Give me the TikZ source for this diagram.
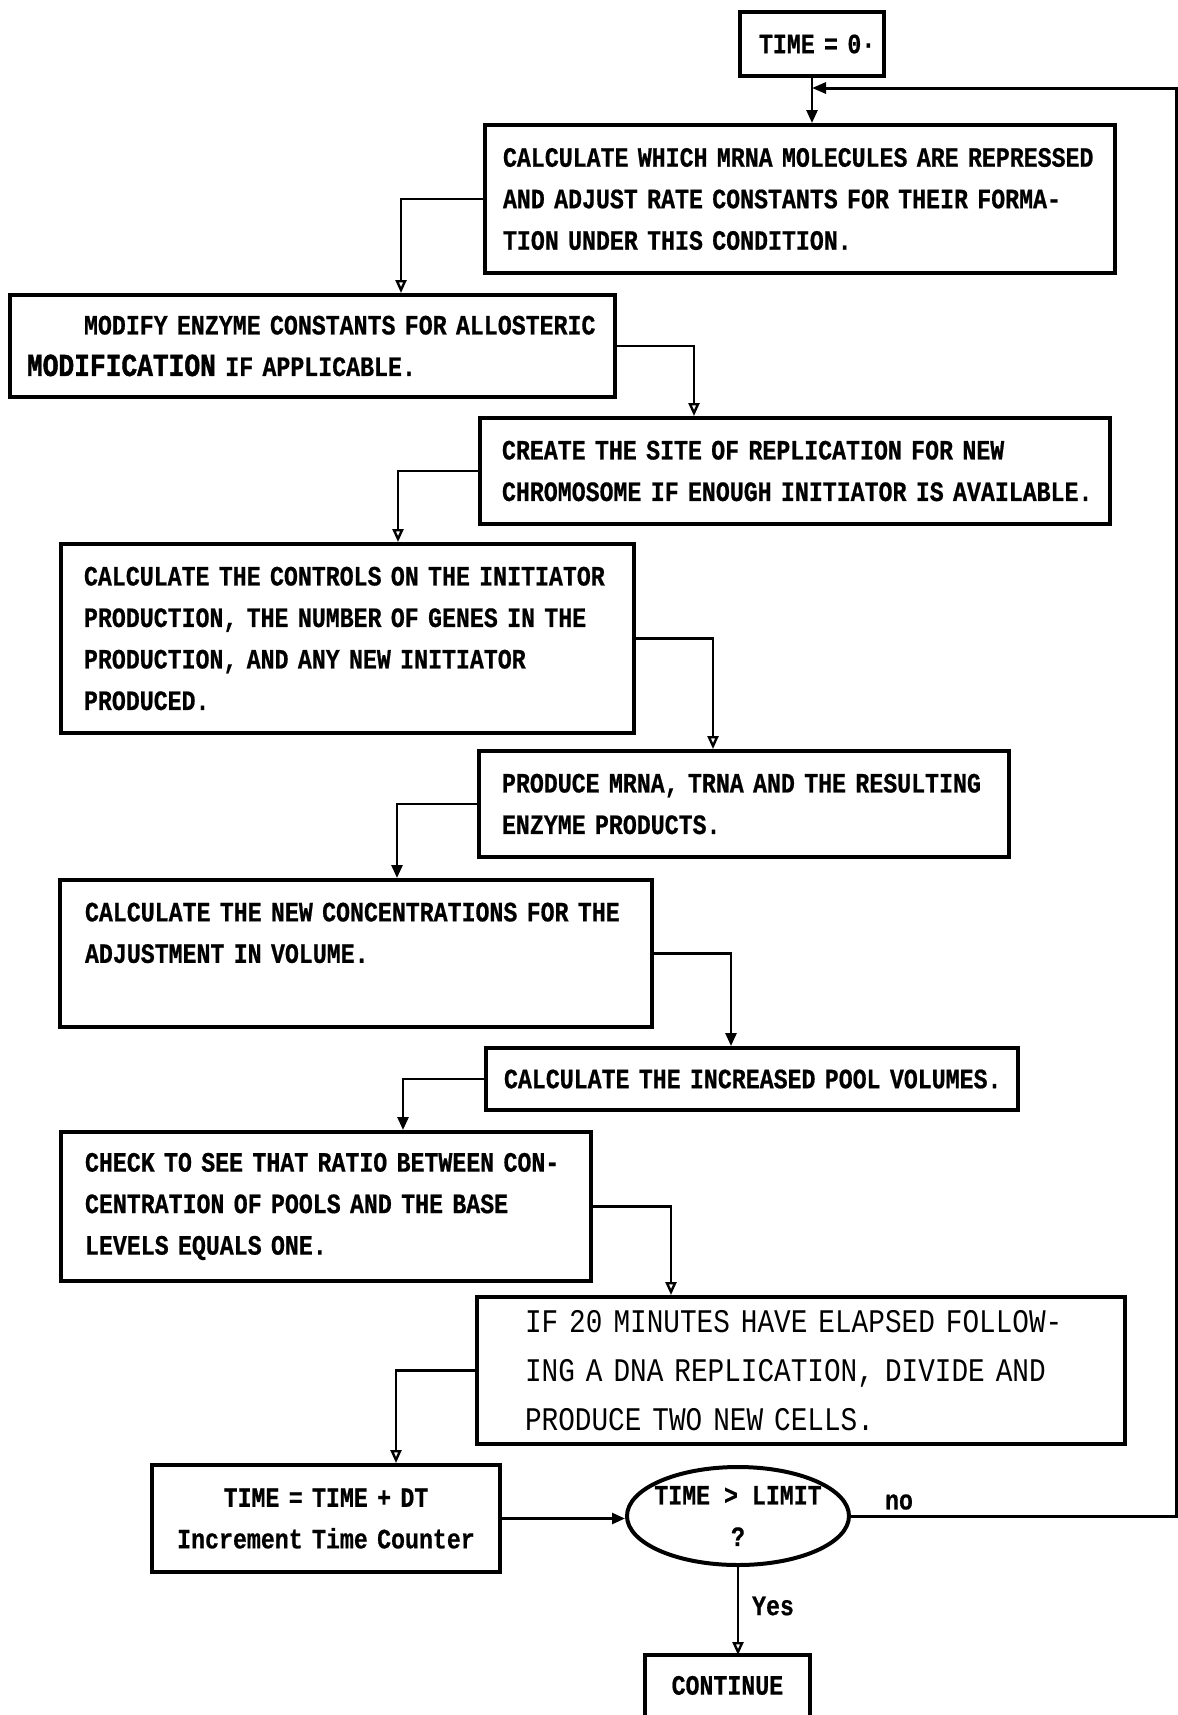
\documentclass[tikz,border=0pt]{standalone}
\usepackage{fontspec}
\usetikzlibrary{arrows.meta,shapes.geometric}

% typewriter faces for the flow chart
\newfontfamily\twfam[FakeStretch=0.83,FakeBold=0.6]{Liberation Mono}
\newfontfamily\twheavy[FakeStretch=0.82,FakeBold=1.4,UprightFont={* Bold}]{Liberation Mono}
\newfontfamily\twplain[FakeStretch=0.84]{Liberation Mono}
\newcommand\boxfont{\twfam\bfseries\fontsize{14pt}{20.75pt}\selectfont}
\newcommand\heavyfont{\twheavy\fontsize{16pt}{20.75pt}\selectfont}
\newcommand\plainfont{\twplain\fontsize{16.5pt}{24.5pt}\selectfont}
\newcommand\oneline[1]{\mbox{#1}}

\tikzset{
  box/.style={draw, line width=2pt, rectangle, anchor=north west,
    inner ysep=0pt, align=left, font=\boxfont},
  conn/.style={line width=1.3pt,
    -{Triangle[open, length=6.5pt, width=5.5pt, line width=1.2pt]}},
  connf/.style={line width=1.3pt, -{Triangle[length=6.5pt, width=5.5pt]}},
  loopline/.style={line width=1.5pt, -{Triangle[length=7pt, width=5.5pt]}},
  dec/.style={draw, ellipse, line width=2pt, minimum width=111pt,
    minimum height=49pt, inner sep=0pt},
  lbl/.style={font=\boxfont, inner sep=0pt},
}

\begin{document}
\begin{tikzpicture}[x=0.5pt, y=-0.5pt]
\fill[white] (0,0) rectangle (1178,1715);
\clip (0,0) rectangle (1178,1715);

% process boxes
\node[box, minimum width=72pt, minimum height=32pt, text width=53pt,
  inner xsep=9.5pt] (t0) at (738,10) {\oneline{TIME = 0·}};

\node[box, minimum width=315pt, minimum height=74pt, text width=297pt,
  inner xsep=9pt] (b1) at (483,123)
  {\oneline{CALCULATE WHICH MRNA MOLECULES ARE REPRESSED}\\
   \oneline{AND ADJUST RATE CONSTANTS FOR THEIR FORMA-}\\
   \oneline{TION UNDER THIS CONDITION.}};

\node[box, minimum width=302.5pt, minimum height=51pt, text width=285.5pt,
  inner xsep=8.5pt] (b2) at (8,293)
  {\oneline{\hspace*{28.5pt}MODIFY ENZYME CONSTANTS FOR ALLOSTERIC}\\
   \oneline{{\heavyfont MODIFICATION} IF APPLICABLE.}};

\node[box, minimum width=315pt, minimum height=53pt, text width=293pt,
  inner xsep=11pt] (b3) at (478,416)
  {\oneline{CREATE THE SITE OF REPLICATION FOR NEW}\\
   \oneline{CHROMOSOME IF ENOUGH INITIATOR IS AVAILABLE.}};

\node[box, minimum width=286.5pt, minimum height=94.5pt, text width=263.5pt,
  inner xsep=11.5pt] (b4) at (59,542)
  {\oneline{CALCULATE THE CONTROLS ON THE INITIATOR}\\
   \oneline{PRODUCTION, THE NUMBER OF GENES IN THE}\\
   \oneline{PRODUCTION, AND ANY NEW INITIATOR}\\
   \oneline{PRODUCED.}};

\node[box, minimum width=265pt, minimum height=53pt, text width=242pt,
  inner xsep=11.5pt] (b5) at (477,749)
  {\oneline{PRODUCE MRNA, TRNA AND THE RESULTING}\\
   \oneline{ENZYME PRODUCTS.}};

\node[box, minimum width=296pt, minimum height=73.5pt, text width=271pt,
  inner xsep=12.5pt] (b6) at (58,878)
  {\oneline{CALCULATE THE NEW CONCENTRATIONS FOR THE}\\
   \oneline{ADJUSTMENT IN VOLUME.}\\
   \mbox{}};

\node[box, minimum width=266pt, minimum height=31pt, text width=248pt,
  inner xsep=9pt] (b7) at (484,1046)
  {\oneline{CALCULATE THE INCREASED POOL VOLUMES.}};

\node[box, minimum width=265pt, minimum height=74.5pt, text width=241pt,
  inner xsep=12pt] (b8) at (59,1130)
  {\oneline{CHECK TO SEE THAT RATIO BETWEEN CON-}\\
   \oneline{CENTRATION OF POOLS AND THE BASE}\\
   \oneline{LEVELS EQUALS ONE.}};

\node[box, font=\plainfont, minimum width=324pt, minimum height=73.5pt,
  text width=276pt, inner xsep=24pt] (b9) at (475,1295)
  {\oneline{IF 20 MINUTES HAVE ELAPSED FOLLOW-}\\
   \oneline{ING A DNA REPLICATION, DIVIDE AND}\\
   \oneline{PRODUCE TWO NEW CELLS.}};

\node[box, align=center, minimum width=174pt, minimum height=53.5pt,
  text width=164pt, inner xsep=5pt] (b10) at (150,1463)
  {TIME = TIME + DT\\Increment Time Counter};

% decision and exit
\node[dec, label={[lbl, align=center]center:TIME > LIMIT\\?}] (dec) at (738,1516) {};

\node[lbl, minimum width=82pt, minimum height=30pt, anchor=north west]
  (cont) at (645,1655) {CONTINUE};
\draw[line width=2pt] (cont.south west) -- (cont.north west)
  -- (cont.north east) -- (cont.south east);

% connector drop columns
\coordinate (d1) at (401,0);
\coordinate (d2) at (694,0);
\coordinate (d3) at (398,0);
\coordinate (d4) at (713,0);
\coordinate (d5) at (397,0);
\coordinate (d6) at (731,0);
\coordinate (d7) at (403,0);
\coordinate (d8) at (671,0);
\coordinate (d9) at (396,0);
\coordinate (rt) at (1176,88);
\coordinate (jn) at (812,88);

% connectors
\draw[connf] (t0.south) -- (t0.south |- b1.north);
\draw[conn]  (b1.west) -| (b2.north -| d1);
\draw[conn]  (b2.east) -| (b3.north -| d2);
\draw[conn]  (b3.west) -| (b4.north -| d3);
\draw[conn]  (b4.east) -| (b5.north -| d4);
\draw[connf] (b5.west) -| (b6.north -| d5);
\draw[connf] (b6.east) -| (b7.north -| d6);
\draw[connf] (b7.west) -| (b8.north -| d7);
\draw[conn]  (b8.east) -| (b9.north -| d8);
\draw[conn]  (b9.west) -| (b10.north -| d9);
\draw[connf] (b10.east) -- (b10.east -| dec.west);
\draw[conn]  (dec.south) -- (dec.south |- cont.north);
\draw[loopline] (dec.east) -| (rt) -- (jn);

% branch labels
\node[lbl] (no) at (899,1502) {no};
\node[lbl] (yes) at (773,1606) {Yes};
\end{tikzpicture}
\end{document}
